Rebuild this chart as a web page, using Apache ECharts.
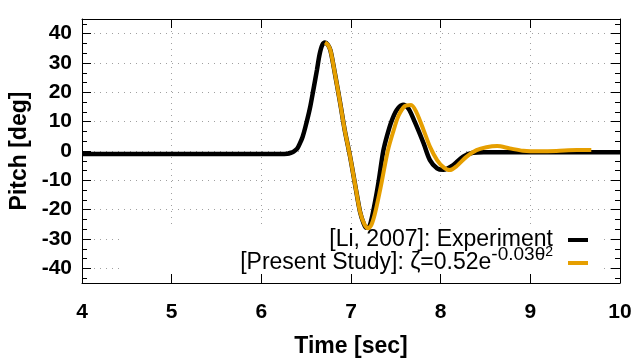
<!DOCTYPE html>
<html>
<head>
<meta charset="utf-8">
<script src="https://cdn.jsdelivr.net/npm/echarts@6/dist/echarts.min.js"></script>
<style>
  html, body { margin: 0; padding: 0; background: #fff; }
  #chart { width: 640px; height: 360px; }
</style>
</head>
<body>
<div id="chart"></div>
<script>
// 实验数据 [Li, 2007]
const expTime = [4.0, 5.0, 6.0, 6.21, 6.29, 6.33, 6.36, 6.40, 6.43, 6.46, 6.49, 6.54, 6.58, 6.62, 6.65, 6.68, 6.71, 6.74, 6.77, 6.82, 6.88, 6.93, 6.99, 7.05, 7.10, 7.14, 7.17, 7.21, 7.27, 7.31, 7.36, 7.40, 7.45, 7.51, 7.58, 7.64, 7.71, 7.81, 7.88, 7.96, 8.03, 8.14, 8.25, 8.36, 8.48, 9.0, 10.0];
const expPitch = [-1.0, -1.0, -1.0, -1.0, -0.9, -0.6, -0.2, 0.8, 2.6, 4.8, 8.0, 14.3, 20.8, 27.6, 33.0, 36.2, 37.0, 36.3, 34.4, 26.5, 16.2, 7.1, -1.9, -12.2, -20.6, -24.6, -26.2, -25.4, -17.0, -10.0, 0.0, 5.0, 10.0, 14.0, 15.8, 14.5, 10.0, 2.6, -3.1, -5.9, -6.4, -4.8, -1.9, -0.6, -0.4, -0.4, -0.4];

// 本研究 ζ=0.52e^(-0.03θ²)
const modelTime = [6.71, 6.74, 6.77, 6.82, 6.88, 6.93, 6.99, 7.05, 7.10, 7.15, 7.19, 7.23, 7.27, 7.33, 7.41, 7.47, 7.53, 7.60, 7.67, 7.73, 7.81, 7.88, 7.96, 8.03, 8.10, 8.18, 8.29, 8.40, 8.51, 8.63, 8.77, 8.92, 9.11, 9.29, 9.52, 9.68];
const modelPitch = [37.0, 36.3, 34.4, 26.5, 16.2, 7.1, -1.9, -12.2, -20.6, -25.0, -26.3, -25.0, -21.0, -12.5, 0.0, 6.5, 12.0, 15.3, 15.7, 13.2, 7.1, 1.5, -3.1, -5.5, -6.5, -5.1, -1.9, 0.3, 1.3, 1.7, 0.9, 0.1, -0.1, 0.0, 0.3, 0.3];

const seriesNames = ["[Li, 2007]: Experiment", "[Present Study]: ζ=0.52e^(-0.03θ²)"];
const seriesColors = ["#000000", "#e69f00"];

const xRange = [4, 10];
const yRange = [-45, 45];

const toPairs = (xs, ys) => xs.map((x, i) => [x, ys[i]]);

const font = "Liberation Sans";
const dotted = { color: "#a0a0a0", width: 1, type: [1, 5] };

const chart = echarts.init(document.getElementById("chart"), null, { renderer: "canvas" });

const option = {
  animation: false,
  backgroundColor: "#fff",
  grid: { left: 82, right: 20, top: 19, bottom: 77, containLabel: false, outerBoundsMode: "none" },
  // key 背景遮住网格线
  graphic: [
    {
      type: "rect",
      left: 123,
      top: 227,
      z: 1,
      shape: { width: 476, height: 56 },
      style: { fill: "#fff" },
    },
  ],
  legend: {
    orient: "vertical",
    right: 52,
    top: 222,
    padding: 0,
    align: "right",
    icon: "rect",
    itemWidth: 20,
    itemHeight: 4,
    itemGap: -13,
    data: seriesNames,
    formatter: (name) =>
      name === seriesNames[0]
        ? "{main|" + name + "}"
        : "{main|[Present Study]: ζ=0.52e}{sup|-0.03θ}{sup2|2}",
    textStyle: {
      fontFamily: font,
      fontSize: 23,
      color: "#000",
      lineHeight: 36,
      padding: [0, 10, 0, 0],
      rich: {
        main: { fontFamily: font, fontSize: 23, color: "#000", lineHeight: 36 },
        // 上标：贴顶对齐
        sup: { fontFamily: font, fontSize: 19, color: "#000", lineHeight: 16, verticalAlign: "top" },
        sup2: { fontFamily: font, fontSize: 14, color: "#000", lineHeight: 8, verticalAlign: "top" },
      },
    },
  },
  xAxis: [
    {
      type: "value",
      position: "bottom",
      min: xRange[0],
      max: xRange[1],
      interval: 1,
      z: 3,
      name: "Time [sec]",
      nameLocation: "middle",
      nameGap: 52,
      nameTextStyle: { fontFamily: font, fontSize: 23, fontWeight: "bold", color: "#000" },
      axisLine: { show: true, onZero: false, lineStyle: { color: "#000", width: 1 } },
      axisTick: { show: true, inside: true, length: 9, lineStyle: { color: "#000", width: 1 } },
      axisLabel: { margin: 19, fontFamily: font, fontSize: 21, fontWeight: "bold", color: "#000" },
      splitLine: { show: false },
    },
    {
      type: "value",
      position: "top",
      min: xRange[0],
      max: xRange[1],
      interval: 1,
      z: 0,
      axisLine: { show: true, onZero: false, lineStyle: { color: "#000", width: 1 } },
      axisTick: { show: true, inside: true, length: 9, lineStyle: { color: "#000", width: 1 } },
      axisLabel: { show: false },
      splitLine: { show: true, lineStyle: dotted },
    },
  ],
  yAxis: [
    {
      type: "value",
      position: "left",
      min: yRange[0],
      max: yRange[1],
      splitNumber: 9,
      z: 3,
      name: "Pitch [deg]",
      nameLocation: "middle",
      nameGap: 48,
      nameTextStyle: { fontFamily: font, fontSize: 23, fontWeight: "bold", color: "#000" },
      axisLine: { show: true, onZero: false, lineStyle: { color: "#000", width: 1 } },
      axisTick: { show: true, inside: true, length: 9, lineStyle: { color: "#000", width: 1 } },
      minorTick: { show: true, splitNumber: 3, length: 5, lineStyle: { color: "#000", width: 1 } },
      axisLabel: {
        margin: 10,
        showMinLabel: false,
        showMaxLabel: false,
        fontFamily: font,
        fontSize: 21,
        fontWeight: "bold",
        color: "#000",
      },
      splitLine: { show: false },
    },
    {
      type: "value",
      position: "right",
      min: yRange[0],
      max: yRange[1],
      splitNumber: 9,
      z: 0,
      axisLine: { show: true, onZero: false, lineStyle: { color: "#000", width: 1 } },
      axisTick: { show: true, inside: true, length: 9, lineStyle: { color: "#000", width: 1 } },
      minorTick: { show: true, splitNumber: 3, length: 5, lineStyle: { color: "#000", width: 1 } },
      axisLabel: { show: false },
      splitLine: { show: true, lineStyle: dotted },
    },
  ],
  series: [
    {
      name: seriesNames[0],
      type: "line",
      xAxisIndex: 0,
      yAxisIndex: 0,
      data: toPairs(expTime, expPitch),
      showSymbol: false,
      smooth: 0.3,
      color: seriesColors[0],
      lineStyle: { color: seriesColors[0], width: 4.5 },
      z: 2,
    },
    {
      name: seriesNames[1],
      type: "line",
      xAxisIndex: 0,
      yAxisIndex: 0,
      data: toPairs(modelTime, modelPitch),
      showSymbol: false,
      smooth: 0.3,
      color: seriesColors[1],
      lineStyle: { color: seriesColors[1], width: 4 },
      z: 2,
    },
  ],
};

chart.setOption(option);
</script>
</body>
</html>
